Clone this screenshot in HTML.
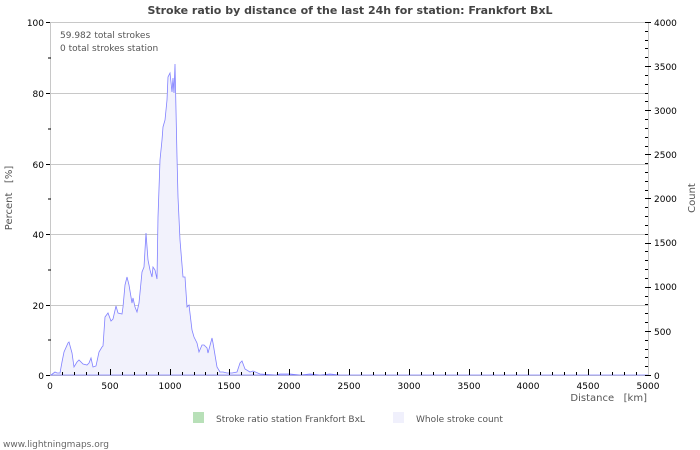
<!DOCTYPE html>
<html><head><style>body{margin:0;background:#fff}svg{display:block}text{font-family:"DejaVu Sans","Liberation Sans",sans-serif}</style></head><body>
<svg width="700" height="450" xmlns="http://www.w3.org/2000/svg">
<rect width="700" height="450" fill="#fff"/>
<text x="350" y="14" text-anchor="middle" font-size="11" font-weight="bold" fill="#444">Stroke ratio by distance of the last 24h for station: Frankfort BxL</text>
<g stroke="#c8c8c8" stroke-width="1">
<line x1="50" y1="22.5" x2="648" y2="22.5"/>
<line x1="50" y1="93.5" x2="648" y2="93.5"/>
<line x1="50" y1="164.5" x2="648" y2="164.5"/>
<line x1="50" y1="234.5" x2="648" y2="234.5"/>
<line x1="50" y1="305.5" x2="648" y2="305.5"/>
<line x1="50.5" y1="22" x2="50.5" y2="375"/>
<line x1="648.5" y1="22" x2="648.5" y2="375"/>
<line x1="50" y1="375.5" x2="648" y2="375.5"/>
</g>
<polygon fill="#f2f2fc" stroke="#8080ff" stroke-width="0.8" points="51,375 55,372 57,373 60,373 62,362 64,352 68,343 69,342 72,353 74,367 77,362 79,360 83,364 87,365 89,363 91,358 93,367 96,366 99,352 102,347 103,346 105,317 108,313 111,321 113,319 116,306 118,313 122,314 123,307 125,285 127,277 129,285 132,303 133,298 135,307 137,312 139,303 142,272 144,267 146,233 148,260 150,270 152,277 153,267 155,270 157,279 158,217 160,160 162,140 163,127 165,120 167,100 168,77 170,73 172,92 173,78 174,93 175,64 177,157 178,197 180,240 183,277 185,277 187,307 189,305 192,330 194,337 197,343 199,352 202,345 204,345 207,348 208,353 212,338 213,343 217,367 220,372 223,372 227,373 232,373 237,372 240,363 242,361 245,369 250,372 253,371 260,374 276,375 280,374 290,374 300,375 310,374 320,375 330,374 340,375 648,375 51,375"/>
<g stroke="#000" stroke-width="1">
<line x1="46" y1="22.5" x2="50" y2="22.5"/><line x1="46" y1="93.5" x2="50" y2="93.5"/><line x1="46" y1="164.5" x2="50" y2="164.5"/><line x1="46" y1="234.5" x2="50" y2="234.5"/><line x1="46" y1="305.5" x2="50" y2="305.5"/><line x1="46" y1="375.5" x2="50" y2="375.5"/>
<line x1="48" y1="58" x2="51" y2="58"/><line x1="48" y1="129" x2="51" y2="129"/><line x1="48" y1="199" x2="51" y2="199"/><line x1="48" y1="270" x2="51" y2="270"/><line x1="48" y1="340" x2="51" y2="340"/>
</g>
<path stroke="#000" stroke-width="1" fill="none" d="M645 375.5h6M645 366.5h3M645 357.5h3M645 349.5h3M645 340.5h3M645 331.5h6M645 322.5h3M645 313.5h3M645 304.5h3M645 296.5h3M645 287.5h6M645 278.5h3M645 269.5h3M645 260.5h3M645 251.5h3M645 243.5h6M645 234.5h3M645 225.5h3M645 216.5h3M645 207.5h3M645 198.5h6M645 190.5h3M645 181.5h3M645 172.5h3M645 163.5h3M645 154.5h6M645 146.5h3M645 137.5h3M645 128.5h3M645 119.5h3M645 110.5h6M645 101.5h3M645 93.5h3M645 84.5h3M645 75.5h3M645 66.5h6M645 57.5h3M645 48.5h3M645 40.5h3M645 31.5h3M645 22.5h6"/>
<path stroke="#000" stroke-width="1" fill="none" d="M62.5 372v3M74.5 372v3M86.5 372v3M98.5 372v3M110.5 369v6M122.5 372v3M134.5 372v3M146.5 372v3M158.5 372v3M170.5 369v6M182.5 372v3M194.5 372v3M205.5 372v3M217.5 372v3M229.5 369v6M241.5 372v3M253.5 372v3M265.5 372v3M277.5 372v3M289.5 369v6M301.5 372v3M313.5 372v3M325.5 372v3M337.5 372v3M349.5 369v6M361.5 372v3M373.5 372v3M385.5 372v3M397.5 372v3M409.5 369v6M421.5 372v3M433.5 372v3M445.5 372v3M457.5 372v3M469.5 369v6M481.5 372v3M493.5 372v3M504.5 372v3M516.5 372v3M528.5 369v6M540.5 372v3M552.5 372v3M564.5 372v3M576.5 372v3M588.5 369v6M600.5 372v3M612.5 372v3M624.5 372v3M636.5 372v3"/>
<g font-size="9" fill="#000" text-anchor="end">
<text x="44" y="26">100</text><text x="44" y="97">80</text><text x="44" y="168">60</text><text x="44" y="238">40</text><text x="44" y="309">20</text><text x="44" y="379">0</text>
</g>
<g font-size="9" fill="#000" text-anchor="start">
<text x="654" y="26">4000</text><text x="654" y="70">3500</text><text x="654" y="114">3000</text><text x="654" y="158">2500</text><text x="654" y="202">2000</text><text x="654" y="246">1500</text><text x="654" y="290">1000</text><text x="654" y="335">500</text><text x="654" y="379">0</text>
</g>
<g font-size="9" fill="#000" text-anchor="middle">
<text x="50" y="389">0</text><text x="110" y="389">500</text><text x="170" y="389">1000</text><text x="229" y="389">1500</text><text x="289" y="389">2000</text><text x="349" y="389">2500</text><text x="409" y="389">3000</text><text x="469" y="389">3500</text><text x="528" y="389">4000</text><text x="588" y="389">4500</text><text x="648" y="389">5000</text>
</g>
<text x="647" y="401" font-size="10" fill="#555" text-anchor="end" xml:space="preserve">Distance   [km]</text>
<text transform="translate(12,198) rotate(-90)" font-size="10" fill="#555" text-anchor="middle" xml:space="preserve">Percent   [%]</text>
<text transform="translate(695,198) rotate(-90)" font-size="10" fill="#555" text-anchor="middle">Count</text>
<text x="60" y="38" font-size="9" fill="#555">59.982 total strokes</text>
<text x="60" y="51" font-size="9" fill="#555">0 total strokes station</text>
<rect x="193" y="412" width="11" height="11" fill="#b8e0b8"/>
<text x="216" y="422" font-size="9" fill="#555">Stroke ratio station Frankfort BxL</text>
<rect x="393" y="412" width="11" height="11" fill="#f0f0fc"/>
<text x="416" y="422" font-size="9" fill="#555">Whole stroke count</text>
<text x="3" y="447" font-size="9" fill="#666">www.lightningmaps.org</text>
</svg>
</body></html>
